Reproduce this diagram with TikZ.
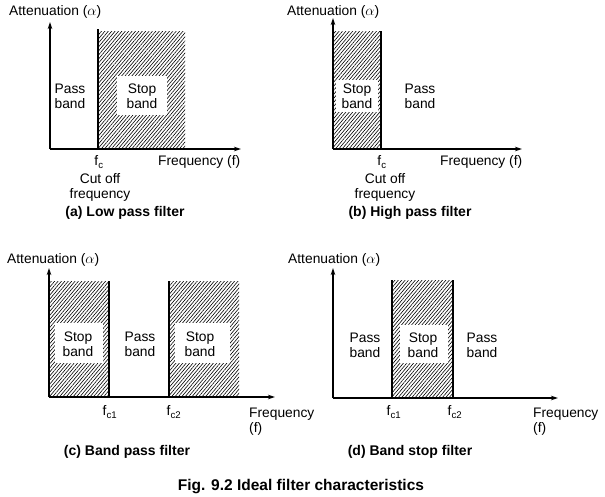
\documentclass[tikz,border=0pt]{standalone}
\usepackage{fontspec}
\setmainfont{Liberation Sans}
\usetikzlibrary{patterns.meta,arrows.meta}
\tikzset{
  axisline/.style={line width=1.4pt,-{Stealth[length=7pt,width=4.5pt]}},
  cutline/.style={line width=1.4pt},
  hatchfill/.style={pattern={Lines[angle=50,distance=2.6pt,line width=0.6pt]}},
  holefill/.style={fill=white},
  lbl/.style={font=\fontsize{13.8}{15}\selectfont, align=center, inner sep=0pt},
  caplbl/.style={font=\bfseries\fontsize{14}{15}\selectfont, inner sep=0pt},
  figlbl/.style={font=\bfseries\fontsize{15.5}{17}\selectfont, inner sep=0pt},
}
\begin{document}
\begin{tikzpicture}[x=1pt,y=-1pt]
\useasboundingbox (0,0) rectangle (605,496);
% ---------- (a) Low pass
\fill[hatchfill] (98,31) rectangle (185,149);
\fill[holefill] (117,76) rectangle (167,115);
\coordinate (ao) at (50,149); \coordinate (ay) at (50,22); \coordinate (ax) at (241,149);
\coordinate (afb) at (98,149); \coordinate (aft) at (98,29);
\draw[axisline] (ao) -- (ay);
\draw[axisline] (ao) -- (ax);
\draw[cutline] (afb) -- (aft);
\node[lbl,anchor=west] (aatt) at (9,12) {Attenuation ($\alpha$)};
\node[lbl] (apass) at (70,96.5) {Pass\\band};
\node[lbl] (astop) at (142,96.5) {Stop\\band};
\node[lbl] (afc) at (99,162) {f\textsubscript{c}};
\node[lbl,anchor=west] (afreq) at (158,162) {Frequency (f)};
\node[lbl] (acut) at (100,187.5) {Cut off\\frequency};
\node[caplbl] (acap) at (125,213) {(a) Low pass filter};
% ---------- (b) High pass
\fill[hatchfill] (333,31) rectangle (381,149);
\fill[holefill] (336,80) rectangle (378,112);
\coordinate (bo) at (333,149); \coordinate (by) at (333,18); \coordinate (bx) at (522,149);
\coordinate (bfb) at (381,149); \coordinate (bft) at (381,31);
\draw[axisline] (bo) -- (by);
\draw[axisline] (bo) -- (bx);
\draw[cutline] (bfb) -- (bft);
\node[lbl,anchor=west] (batt) at (287,12) {Attenuation ($\alpha$)};
\node[lbl] (bstop) at (357,96.5) {Stop\\band};
\node[lbl] (bpass) at (420,96.5) {Pass\\band};
\node[lbl] (bfc) at (382,162) {f\textsubscript{c}};
\node[lbl,anchor=west] (bfreq) at (440,162) {Frequency (f)};
\node[lbl] (bcut) at (385,187.5) {Cut off\\frequency};
\node[caplbl] (bcap) at (410,213) {(b) High pass filter};
% ---------- (c) Band pass
\fill[hatchfill] (49,281) rectangle (109,397);
\fill[hatchfill] (169,281) rectangle (239,397);
\fill[holefill] (55,323) rectangle (103,363);
\fill[holefill] (175,323) rectangle (230,363);
\coordinate (co) at (49,397); \coordinate (cy) at (49,268); \coordinate (cx) at (275,397);
\coordinate (c1b) at (109,397); \coordinate (c1t) at (109,281);
\coordinate (c2b) at (169,397); \coordinate (c2t) at (169,281);
\draw[axisline] (co) -- (cy);
\draw[axisline] (co) -- (cx);
\draw[cutline] (c1b) -- (c1t);
\draw[cutline] (c2b) -- (c2t);
\node[lbl,anchor=west] (catt) at (7,260) {Attenuation ($\alpha$)};
\node[lbl] (cstopa) at (78,344.5) {Stop\\band};
\node[lbl] (cpass) at (140,344.5) {Pass\\band};
\node[lbl] (cstopb) at (200,344.5) {Stop\\band};
\node[lbl] (cf1) at (110,412) {f\textsubscript{c1}};
\node[lbl] (cf2) at (174,412) {f\textsubscript{c2}};
\node[lbl,anchor=west,align=left] (cfreq) at (249,422) {Frequency\\(f)};
\node[caplbl] (ccap) at (127,452) {(c) Band pass filter};
% ---------- (d) Band stop
\fill[hatchfill] (392,280) rectangle (453,398);
\fill[holefill] (400,325) rectangle (448,363);
\coordinate (do) at (333,398); \coordinate (dy) at (333,268); \coordinate (dx) at (558,398);
\coordinate (d1b) at (392,398); \coordinate (d1t) at (392,280);
\coordinate (d2b) at (453,398); \coordinate (d2t) at (453,280);
\draw[axisline] (do) -- (dy);
\draw[axisline] (do) -- (dx);
\draw[cutline] (d1b) -- (d1t);
\draw[cutline] (d2b) -- (d2t);
\node[lbl,anchor=west] (datt) at (288,260) {Attenuation ($\alpha$)};
\node[lbl] (dpassa) at (365,345.5) {Pass\\band};
\node[lbl] (dstop) at (423,345.5) {Stop\\band};
\node[lbl] (dpassb) at (482,345.5) {Pass\\band};
\node[lbl] (df1) at (394,412) {f\textsubscript{c1}};
\node[lbl] (df2) at (455,412) {f\textsubscript{c2}};
\node[lbl,anchor=west,align=left] (dfreq) at (533,422) {Frequency\\(f)};
\node[caplbl] (dcap) at (410,452) {(d) Band stop filter};
% ---------- caption
\node[figlbl] (fig) at (301,487) {Fig. 9.2 Ideal filter characteristics};
\end{tikzpicture}
\end{document}
